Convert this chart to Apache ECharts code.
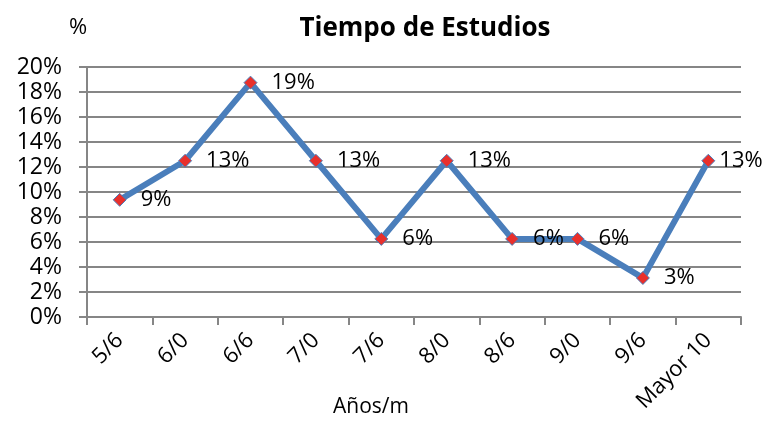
<!DOCTYPE html>
<html>
<head>
<meta charset="utf-8">
<script src="https://cdn.jsdelivr.net/npm/echarts@6/dist/echarts.min.js"></script>
<style>
  html, body { margin: 0; padding: 0; background: #fff; }
  #chart { width: 762px; height: 423px; }
</style>
</head>
<body>
<div id="chart"></div>
<script>
const categories = ['5/6', '6/0', '6/6', '7/0', '7/6', '8/0', '8/6', '9/0', '9/6', 'Mayor 10']
const values = [9.375, 12.5, 18.75, 12.5, 6.25, 12.5, 6.25, 6.25, 3.125, 12.5]
const yTicks = [0, 2, 4, 6, 8, 10, 12, 14, 16, 18, 20]

const font = 'Open Sans'
const chart = echarts.init(document.getElementById('chart'))
chart.setOption({
  animation: false,
  textStyle: { fontFamily: font, color: '#000' },
  title: [{
    text: 'Tiempo de Estudios',
    left: 420,
    top: 11,
    textAlign: 'center',
    textStyle: { fontFamily: font, fontWeight: 'bold', fontSize: 26, color: '#000' }
  }, {
    text: '%',
    left: 64,
    top: 12,
    textStyle: { fontFamily: font, fontWeight: 'normal', fontSize: 22, color: '#000' }
  }],
  grid: { left: 87, right: 21, top: 67, bottom: 106, containLabel: false, outerBoundsMode: 'none' },
  xAxis: {
    type: 'category',
    data: categories,
    boundaryGap: true,
    name: 'Años/m',
    nameLocation: 'middle',
    nameGap: 80,
    nameMoveOverlap: false,
    nameTextStyle: { fontSize: 21, color: '#000', fontFamily: font, padding: [0, 86, 0, 0] },
    axisLine: { lineStyle: { color: '#868686', width: 2 } },
    axisTick: { show: true, length: 8, lineStyle: { color: '#868686', width: 2 } },
    axisLabel: { rotate: 45, fontSize: 22, color: '#000', margin: 20, fontFamily: font },
    splitLine: { show: false }
  },
  yAxis: {
    type: 'value',
    min: 0,
    max: 20,
    interval: 2,
    axisLine: { show: true, lineStyle: { color: '#868686', width: 2 } },
    axisTick: { show: true, length: 8, lineStyle: { color: '#868686', width: 2 } },
    axisLabel: {
      fontSize: 23,
      color: '#000',
      margin: 25,
      fontFamily: font,
      formatter: (v) => (yTicks.includes(v) ? v + '%' : '')
    },
    splitLine: { show: true, lineStyle: { color: '#868686', width: 2 } }
  },
  series: [{
    type: 'line',
    data: values,
    lineStyle: { color: '#4a7ebb', width: 6 },
    symbol: 'diamond',
    symbolSize: 13,
    itemStyle: { color: '#e8302c', borderColor: '#4a7ebb', borderWidth: 1 },
    label: {
      show: true,
      position: 'right',
      distance: 14,
      fontSize: 22,
      color: '#000',
      fontFamily: font,
      formatter: (p) => Math.round(p.value) + '%'
    },
    labelLayout: (p) => (p.dataIndex === values.length - 1 ? { dx: -10 } : {})
  }]
})
</script>
</body>
</html>
